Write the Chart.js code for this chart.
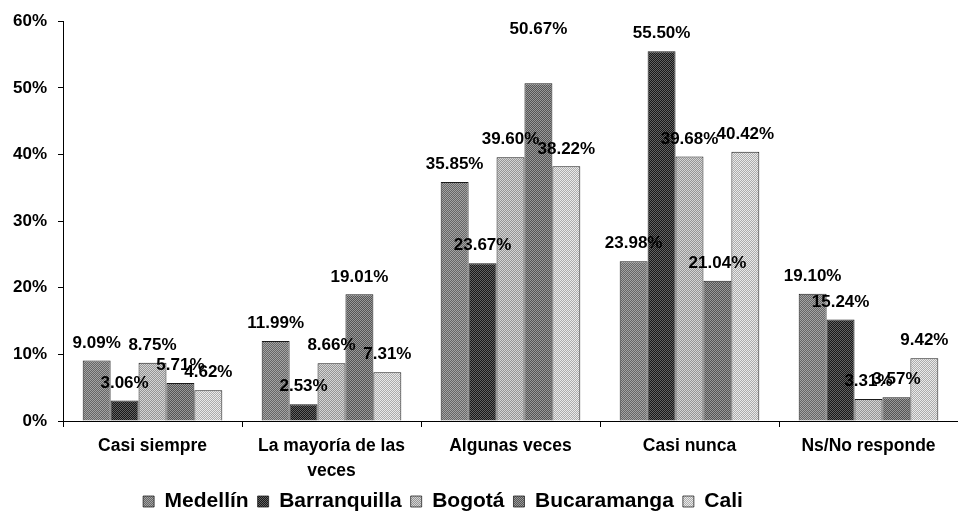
<!DOCTYPE html>
<html>
<head>
<meta charset="utf-8">
<script src="https://cdn.jsdelivr.net/npm/chart.js@4/dist/chart.umd.min.js"></script>
<style>
  html, body { margin:0; padding:0; background:#fff; }
  #wrap { width:958px; height:523px; position:relative; }
</style>
</head>
<body>
<div id="wrap"><canvas id="chart" width="958" height="523"></canvas></div>
<script>
const categories = ['Casi siempre', ['La mayoría de las', 'veces'], 'Algunas veces', 'Casi nunca', 'Ns/No responde'];
const cities = ['Medellín', 'Barranquilla', 'Bogotá', 'Bucaramanga', 'Cali'];
const medellin     = [9.09, 11.99, 35.85, 23.98, 19.10];
const barranquilla = [3.06, 2.53, 23.67, 55.50, 15.24];
const bogota       = [8.75, 8.66, 39.60, 39.68, 3.31];
const bucaramanga  = [5.71, 19.01, 50.67, 21.04, 3.57];
const cali         = [4.62, 7.31, 38.22, 40.42, 9.42];
const yTicks = [0, 10, 20, 30, 40, 50, 60];

const FONT = "'Liberation Sans', Arial, sans-serif";
const canvas = document.getElementById('chart');
const ctx = canvas.getContext('2d');

// checker dither, like the scanned grey fills
const dither = (c1, c2) => {
  const p = document.createElement('canvas'); p.width = 4; p.height = 4;
  const g = p.getContext('2d');
  g.fillStyle = c1; g.fillRect(0, 0, 4, 4);
  g.fillStyle = c2;
  for (let y = 0; y < 4; y++) for (let x = 0; x < 4; x++) if ((x + y) % 2 === 0) g.fillRect(x, y, 1, 1);
  return ctx.createPattern(p, 'repeat');
};

const fills = [
  dither('#666666', '#a4a4a4'),
  dither('#181818', '#626262'),
  dither('#959595', '#d4d4d4'),
  dither('#555555', '#999999'),
  dither('#acacac', '#eaeaea')
];

// extra nudges for labels that sit off their bar in the original
const labelShift = { '3,2': -37 };

const valueLabels = {
  id: 'valueLabels',
  afterDatasetsDraw(chart) {
    const c = chart.ctx;
    c.save();
    c.font = 'bold 17px ' + FONT;
    c.fillStyle = '#000';
    c.textAlign = 'center';
    c.textBaseline = 'bottom';
    chart.data.datasets.forEach((ds, di) => {
      chart.getDatasetMeta(di).data.forEach((el, i) => {
        const dy = labelShift[di + ',' + i] || 0;
        c.fillText(ds.data[i].toFixed(2) + '%', el.x, el.y - 9 + dy);
      });
    });
    c.restore();
  }
};

// the original legend sits left of centre
const legendNudge = {
  id: 'legendNudge',
  afterLayout(chart) {
    const lg = chart.legend;
    if (!lg) return;
    lg.left -= 36; lg.right -= 36;
  }
};

const series = [medellin, barranquilla, bogota, bucaramanga, cali];

new Chart(canvas, {
  type: 'bar',
  data: {
    labels: categories,
    datasets: series.map((d, k) => ({
      label: cities[k], data: d,
      backgroundColor: fills[k], borderColor: '#1a1a1a',
      borderWidth: { top: 1, left: 1, right: 1, bottom: 0 },
      categoryPercentage: 0.78, barPercentage: 1.0
    }))
  },
  options: {
    responsive: false, animation: false,
    layout: { padding: { top: 15, right: 0, left: 0, bottom: 1 } },
    plugins: {
      tooltip: { enabled: false },
      legend: {
        position: 'bottom',
        labels: {
          color: '#000', boxWidth: 11, boxHeight: 11, padding: 9,
          font: { family: FONT, size: 21, weight: 'bold' }
        }
      }
    },
    scales: {
      x: {
        grid: { display: true, drawOnChartArea: false, drawTicks: true, tickLength: 6, color: '#000', offset: true },
        border: { color: '#000', width: 1 },
        ticks: { color: '#000', padding: 6, maxRotation: 0, font: { family: FONT, size: 17.5, weight: 'bold', lineHeight: 1.45 } },
        afterFit: s => { s.height = 61; }
      },
      y: {
        min: 0, max: 60,
        afterBuildTicks: s => { s.ticks = yTicks.map(v => ({ value: v })); },
        grid: { display: true, drawOnChartArea: false, drawTicks: true, tickLength: 5, color: '#000' },
        border: { color: '#000', width: 1 },
        ticks: { color: '#000', padding: 11, callback: v => v + '%', font: { family: FONT, size: 17, weight: 'bold' } },
        afterFit: s => { s.width = 63; }
      }
    }
  },
  plugins: [valueLabels, legendNudge]
});
</script>
</body>
</html>
